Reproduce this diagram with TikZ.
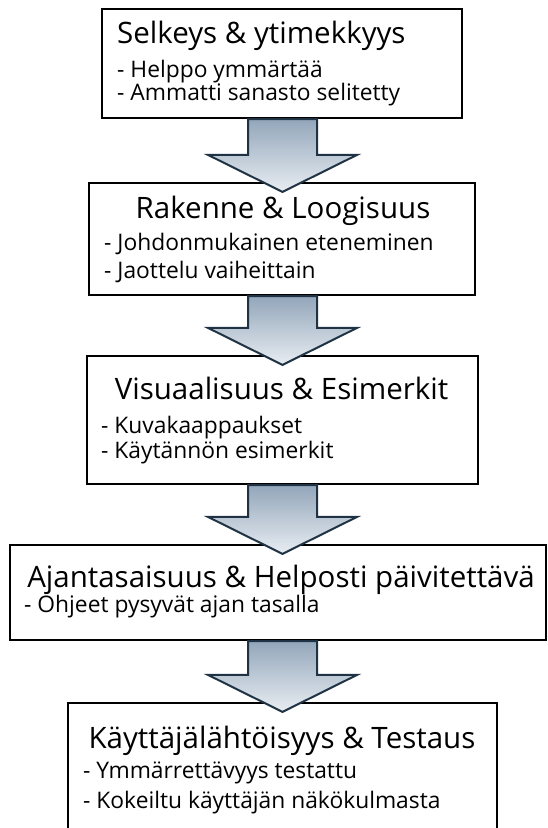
\documentclass[tikz,border=0pt]{standalone}
\usepackage{fontspec}
\setmainfont{Open Sans}
\usetikzlibrary{calc}

\definecolor{arrline}{HTML}{1F3344}
\definecolor{arrtop}{HTML}{93A6BA}
\definecolor{arrbot}{HTML}{E8EDF2}

\tikzset{
  box/.style={draw=black,line width=2.2pt,fill=white,inner sep=0pt},
  head/.style={anchor=base,inner sep=0pt,font=\fontsize{29.5}{34}\selectfont},
  item/.style={anchor=base west,inner sep=0pt,font=\fontsize{22.8}{26}\selectfont},
  blockarrow/.style={draw=arrline,line width=2pt,line join=miter,top color=arrtop,bottom color=arrbot}
}

% big arrow from the bottom of one box to the top of the next
\newcommand{\bigarrow}[2]{%
  \path (axis |- #1.south) coordinate (s) ($(axis |- #2.north)+(0,10)$) coordinate (t);
  \draw[blockarrow] ($(s)+(-34.5,0)$) -- ($(s)+(34.5,0)$) -- ($(t)+(34.5,-37)$) -- ($(t)+(74.5,-37)$)
    -- (t) -- ($(t)+(-74.5,-37)$) -- ($(t)+(-34.5,-37)$) -- cycle;
}

\begin{document}
\begin{tikzpicture}[x=1pt,y=-1pt]
 \useasboundingbox (0,0) rectangle (548,828);
 \coordinate (axis) at (282.5,0);

 \node[box,minimum width=360,minimum height=109] (selkeys) at (282,63.5) {};
 \node[head,anchor=base west] (selkeyst) at (117,43) {Selkeys \& ytimekkyys};
 \node[item] (selkeys1) at (117,77) {- Helppo ymmärtää};
 \node[item] (selkeys2) at (117,100) {- Ammatti sanasto selitetty};

 \node[box,minimum width=386,minimum height=112] (rakenne) at (282,239) {};
 \node[head] (rakennet) at (283,218) {Rakenne \& Loogisuus};
 \node[item] (rakenne1) at (104,250) {- Johdonmukainen eteneminen};
 \node[item] (rakenne2) at (104,278) {- Jaottelu vaiheittain};

 \node[box,minimum width=391,minimum height=128] (visual) at (282.5,420) {};
 \node[head] (visualt) at (281.5,399) {Visuaalisuus \& Esimerkit};
 \node[item] (visual1) at (101,433) {- Kuvakaappaukset};
 \node[item] (visual2) at (101,458) {- Käytännön esimerkit};

 \node[box,minimum width=536,minimum height=95] (ajan) at (278,592.5) {};
 \node[head] (ajant) at (281,587) {Ajantasaisuus \& Helposti päivitettävä};
 \node[item] (ajan1) at (24,612) {- Ohjeet pysyvät ajan tasalla};

 \node[box,minimum width=429,minimum height=127] (kaytto) at (282.5,766.5) {};
 \node[head] (kayttot) at (282,748) {Käyttäjälähtöisyys \& Testaus};
 \node[item] (kaytto1) at (83,778) {- Ymmärrettävyys testattu};
 \node[item] (kaytto2) at (83,808) {- Kokeiltu käyttäjän näkökulmasta};

 \bigarrow{selkeys}{rakenne}
 \bigarrow{rakenne}{visual}
 \bigarrow{visual}{ajan}
 \bigarrow{ajan}{kaytto}
\end{tikzpicture}
\end{document}
